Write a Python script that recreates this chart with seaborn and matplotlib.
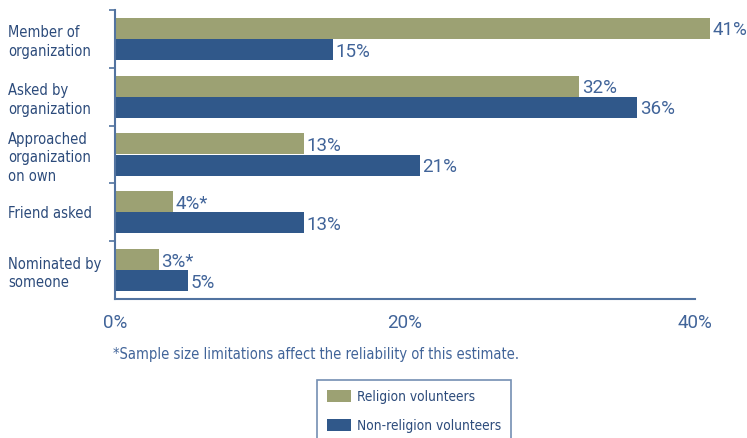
import matplotlib
matplotlib.use("Agg")
import matplotlib.pyplot as plt
import seaborn as sns
import pandas as pd
from matplotlib.ticker import FixedLocator
from matplotlib.patches import Patch

categories = ["Member of\norganization", "Asked by\norganization",
              "Approached\norganization\non own", "Friend asked",
              "Nominated by\nsomeone"]
series_names = ["Religion volunteers", "Non-religion volunteers"]
religion = [41, 32, 13, 4, 3]
non_religion = [15, 36, 21, 13, 5]
religion_labels = ["41%", "32%", "13%", "4%*", "3%*"]
non_religion_labels = ["15%", "36%", "21%", "13%", "5%"]
x_ticks = [0, 20, 40]
x_tick_labels = ["0%", "20%", "40%"]
footnote = "*Sample size limitations affect the reliability of this estimate."

GREEN = "#9ca173"
BLUE = "#30588a"
TEXT = "#2c4b7b"
VALUE_TEXT = "#416499"
AXIS = "#5273a0"
NARROW = dict(family="DejaVu Sans", stretch="condensed")

df = pd.DataFrame({
    "category": categories * 2,
    "series": [series_names[0]] * len(categories) + [series_names[1]] * len(categories),
    "value": religion + non_religion,
})

sns.set_theme(style="white")
plt.rcParams["font.family"] = ["Roboto", "DejaVu Sans"]

fig = plt.figure(figsize=(7.47, 4.38), dpi=100)
W, H = 747, 438
PX_PER_PCT = 14.5
XMAX = 41.5
ax = fig.add_axes([115 / W, (H - 299) / H, XMAX * PX_PER_PCT / W, 289 / H])

sns.barplot(data=df, y="category", x="value", hue="series", orient="h",
            palette=[GREEN, BLUE], width=0.73, ax=ax, legend=False,
            saturation=1, order=categories, hue_order=series_names)

ax.set_xlim(0, XMAX)
ax.set_ylim(4.5, -0.5)
for p in ax.patches:
    p.set_edgecolor("none")

# value labels at the end of each bar, sitting a touch below the bar centre
for cont, labels in zip(ax.containers, [religion_labels, non_religion_labels]):
    anns = ax.bar_label(cont, labels=labels, padding=2, fontsize=13.5,
                        color=VALUE_TEXT)
    for a in anns:
        a.xyann = (2, -1.5)

ax.set_xlabel("")
ax.set_ylabel("")

# axes styling
for side in ["top", "right"]:
    ax.spines[side].set_visible(False)
for side in ["left", "bottom"]:
    ax.spines[side].set_color(AXIS)
    ax.spines[side].set_linewidth(1.5)
ax.spines["bottom"].set_bounds(0, 40)

ax.set_xticks(x_ticks)
ax.set_xticklabels(x_tick_labels, fontsize=13.5, color=VALUE_TEXT)
ax.tick_params(axis="x", direction="out", length=5, width=1.2, color=AXIS, pad=6)

ax.set_yticks(range(len(categories)))
ax.set_yticklabels(categories, ha="left", ma="left", color=TEXT, fontsize=10.5,
                   linespacing=1.3, **NARROW)
ax.tick_params(axis="y", length=0, pad=(115 - 8) * 72 / 100)
ax.yaxis.set_minor_locator(FixedLocator([-0.5, 0.5, 1.5, 2.5, 3.5]))
ax.tick_params(axis="y", which="minor", direction="out", length=4.5, width=1.2,
               color=AXIS, left=True)

fig.text(113 / W, 1 - 355 / H, footnote, fontsize=10.5, color=VALUE_TEXT,
         va="center", ha="left", **NARROW)

# legend box partly running off the bottom edge
handles = [Patch(facecolor=GREEN, edgecolor="none"), Patch(facecolor=BLUE, edgecolor="none")]
leg = fig.legend(handles, series_names, loc="upper left",
                 bbox_to_anchor=(317 / W, 1 - 380 / H), frameon=True, fancybox=False,
                 prop={"family": "DejaVu Sans", "stretch": "condensed", "size": 9.8},
                 handlelength=1.75, handleheight=0.9, labelspacing=1.1,
                 borderpad=0.72, handletextpad=0.45, borderaxespad=0)
leg.get_frame().set_edgecolor(AXIS)
leg.get_frame().set_linewidth(1.2)
for t in leg.get_texts():
    t.set_color(TEXT)

fig.savefig("out.png", dpi=100)
